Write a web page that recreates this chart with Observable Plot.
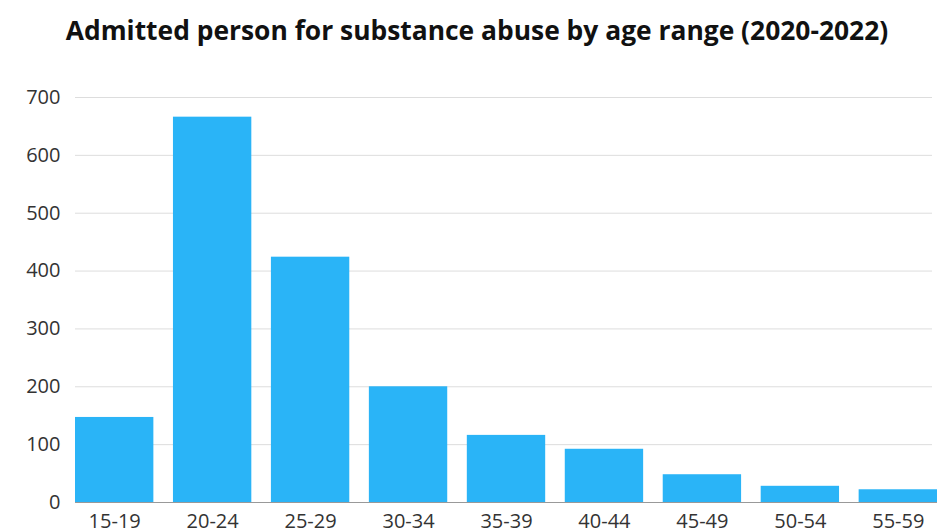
<!DOCTYPE html>
<html>
<head>
<meta charset="utf-8">
<script src="https://cdn.jsdelivr.net/npm/d3@7"></script>
<script src="https://cdn.jsdelivr.net/npm/@observablehq/plot@0.6"></script>
<style>
  html, body { margin: 0; padding: 0; background: #fff; width: 939px; height: 529px; overflow: hidden; }
  #title { height: 64px; line-height: 60px; text-align: center; padding-left: 15px; font-family: "Open Sans", sans-serif; font-weight: 700; font-size: 26.4px; color: #111; white-space: nowrap; }
</style>
</head>
<body>
<div id="title">Admitted person for substance abuse by age range (2020-2022)</div>
<div id="chart"></div>
<script>
const ageRanges = ["15-19", "20-24", "25-29", "30-34", "35-39", "40-44", "45-49", "50-54", "55-59"];
const admitted = [147, 666, 424, 200, 116, 92, 48, 28, 22];
const yTicks = [0, 100, 200, 300, 400, 500, 600, 700];

const data = ageRanges.map((a, i) => ({age: a, value: admitted[i]}));

const chart = Plot.plot({
  width: 939,
  height: 465,
  marginTop: 33,
  marginBottom: 27,
  marginLeft: 75,
  marginRight: 2,
  style: {fontFamily: "'Open Sans', sans-serif", fontSize: "20px", color: "#333", background: "#fff"},
  x: {domain: ageRanges, paddingInner: 0.2, paddingOuter: 0, round: false, label: null},
  y: {domain: [0, 700], ticks: yTicks, label: null},
  marks: [
    Plot.ruleY(yTicks.filter(d => d > 0), {stroke: "#ddd", strokeWidth: 1, insetRight: 5}),
    Plot.barY(data, {x: "age", y: "value", fill: "#2ab4f7"}),
    Plot.ruleY([0], {stroke: "#999", strokeWidth: 1}),
    Plot.axisY({ticks: yTicks, tickSize: 0, tickPadding: 15, label: null, fontSize: 20, fill: "#333"}),
    Plot.axisX({tickSize: 0, tickPadding: 11, label: null, fontSize: 20, fill: "#333"})
  ]
});
document.getElementById("chart").appendChild(chart);
</script>
</body>
</html>
